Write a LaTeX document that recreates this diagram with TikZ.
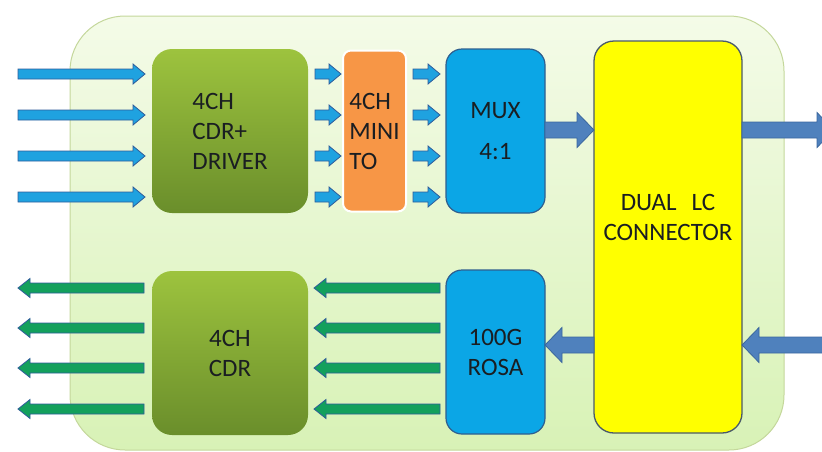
\documentclass[tikz,border=0pt]{standalone}
\usepackage{fontspec}
\setmainfont{Carlito}
\usepackage{xcolor}
\usepackage{tikz}
\usetikzlibrary{calc}
\usetikzlibrary{positioning}

\definecolor{bgtop}{HTML}{F4FBE8}
\definecolor{bgbot}{HTML}{D8F2B6}
\definecolor{bgline}{HTML}{C4D79B}
\definecolor{drvtop}{HTML}{9DC33E}
\definecolor{drvbot}{HTML}{6A8E2B}
\definecolor{minifill}{HTML}{F79646}
\definecolor{muxfill}{HTML}{0BA6E6}
\definecolor{muxline}{HTML}{2F5F8F}
\definecolor{connfill}{HTML}{FFFF00}
\definecolor{connline}{HTML}{4A5A6A}
\definecolor{txarrow}{HTML}{1FA2E0}
\definecolor{rxarrow}{HTML}{13A05C}
\definecolor{arrowline}{HTML}{2E5C9A}
\definecolor{bigarrow}{HTML}{4F81BD}
\definecolor{bigline}{HTML}{3B679E}
\definecolor{ink}{HTML}{1A1E22}

\tikzset{
  fat/.style n args={3}{to path={let \p1=(\tikztostart), \p2=(\tikztotarget), \n1={sign(\x2-\x1)} in
    (\x1,\y1+#1) -- (\x2-\n1*#3,\y1+#1) -- (\x2-\n1*#3,\y1+#2) -- (\x2,\y1)
    -- (\x2-\n1*#3,\y1-#2) -- (\x2-\n1*#3,\y1-#1) -- (\x1,\y1-#1) -- cycle}},
}

\begin{document}
\begin{tikzpicture}[x=1pt,y=-1pt,semithick,font=\fontsize{25}{30}\selectfont,text=ink]
	\tikzstyle{blk}=[rectangle, inner sep=0pt, outer sep=0pt]
	\tikzstyle{grn}=[blk, rounded corners=20pt, top color=drvtop, bottom color=drvbot, minimum width=156pt, minimum height=164pt]
	\tikzstyle{org}=[blk, rounded corners=8pt, fill=minifill, draw=white, line width=2pt, minimum width=63pt, minimum height=161pt, align=left]
	\tikzstyle{blu}=[blk, rounded corners=16pt, fill=muxfill, draw=muxline, line width=1.2pt, minimum width=99pt, minimum height=164pt, align=center]
	\tikzstyle{ylw}=[blk, rounded corners=20pt, fill=connfill, draw=connline, line width=1.3pt, minimum width=148pt, minimum height=392pt]
	\tikzstyle{txa}=[fat={5pt}{10pt}{12pt}, draw=arrowline, fill=txarrow, line width=0.8pt]
	\tikzstyle{rxa}=[fat={5pt}{9.5pt}{12pt}, draw=arrowline, fill=rxarrow, line width=0.8pt]
	\tikzstyle{bga}=[fat={8pt}{17.5pt}{17pt}, draw=bigline, fill=bigarrow, line width=0.8pt]

	\useasboundingbox (0,0) rectangle (822,451);
	\clip (0,0) rectangle (822,451);
	\draw[bgline, line width=1pt, top color=bgtop, bottom color=bgbot, rounded corners=55pt] (70,16) rectangle (784,450);

	\node[grn, align=left] (drv) at (230,131) {4CH\\CDR+\\DRIVER};
	\node[org] (mini) [right=35pt of drv] {4CH\\MINI\\TO};
	\node[blu] (mux) [right=40pt of mini] {MUX\\[11pt]4:1};
	\node[ylw] (conn) at (668,237) {};
	\node[align=center] (connlbl) at ([yshift=20pt]conn.center) {DUAL\hspace{0.6em}LC\\CONNECTOR};
	\node[grn, align=center] (cdr) [below=58pt of drv] {4CH\\CDR};
	\node[blu] (rosa) [below=57pt of mux] {100G\\ROSA};

	% transmit lanes
	\foreach \i/\y in {1/74,2/115,3/156,4/197} {
		\coordinate (t\i) at (18,\y);
		\path (t\i) edge[txa] ($(drv.west |- t\i)+(-7,0)$)
			($(drv.east |- t\i)+(7,0)$) edge[txa] ($(mini.west |- t\i)+(-2,0)$)
			($(mini.east |- t\i)+(7,0)$) edge[txa] ($(mux.west |- t\i)+(-6,0)$);
	}
	% receive lanes
	\foreach \i/\y in {1/288,2/328,3/368,4/409} {
		\coordinate (r\i) at (18,\y);
		\path ($(rosa.west |- r\i)+(-6,0)$) edge[rxa] ($(cdr.east |- r\i)+(6,0)$)
			($(cdr.west |- r\i)+(-8,0)$) edge[rxa] (r\i);
	}
	% optical side
	\coordinate (outtip) at (834,130);
	\coordinate (inend) at (830,345);
	\path (mux.east |- outtip) edge[bga] (conn.west |- outtip)
		(conn.east |- outtip) edge[bga] (outtip)
		(inend) edge[bga] (conn.east |- inend)
		(conn.west |- inend) edge[bga] (rosa.east |- inend);
\end{tikzpicture}
\end{document}
